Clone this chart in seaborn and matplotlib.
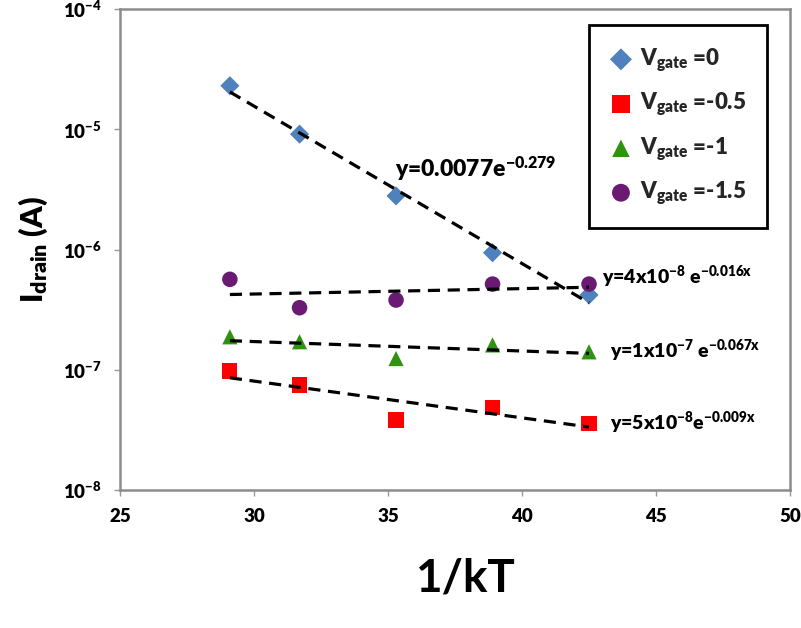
import numpy as np
import seaborn as sns
import matplotlib.pyplot as plt

# 1/kT values (same temperatures for every gate voltage)
inv_kt = [29.1, 31.7, 35.3, 38.9, 42.5]

# drain current (A)
i_vg0 = [2.30e-5, 9.1e-6, 2.79e-6, 9.4e-7, 4.19e-7]
i_vg05 = [9.77e-8, 7.47e-8, 3.82e-8, 4.88e-8, 3.59e-8]
i_vg1 = [1.88e-7, 1.71e-7, 1.24e-7, 1.61e-7, 1.41e-7]
i_vg15 = [5.65e-7, 3.28e-7, 3.80e-7, 5.16e-7, 5.16e-7]

labels = ['V$_{gate}$ =0', 'V$_{gate}$ =-0.5', 'V$_{gate}$ =-1', 'V$_{gate}$ =-1.5']
fit_labels = ['y=0.0077e$^{-0.279}$', 'y=5x10$^{-8}$e$^{-0.009x}$',
              'y=1x10$^{-7}$ e$^{-0.067x}$', 'y=4x10$^{-8}$ e$^{-0.016x}$']

y_ticks = [1e-8, 1e-7, 1e-6, 1e-5, 1e-4]
y_tick_labels = ['10$^{-8}$', '10$^{-7}$', '10$^{-6}$', '10$^{-5}$', '10$^{-4}$']
x_ticks = [25, 30, 35, 40, 45, 50]

sns.set_style('white')
plt.rcParams['font.family'] = ['Lato', 'DejaVu Sans']
plt.rcParams['font.weight'] = 'heavy'
plt.rcParams['mathtext.fontset'] = 'custom'
plt.rcParams['mathtext.rm'] = 'Lato:heavy'
plt.rcParams['mathtext.it'] = 'Lato:heavy'
plt.rcParams['mathtext.bf'] = 'Lato:heavy'

fig = plt.figure(figsize=(8.01, 6.28), dpi=100)
ax = fig.add_axes([0.1498, 0.2197, 0.8365, 0.766])

series = [i_vg0, i_vg05, i_vg1, i_vg15]
markers = ['D', 's', '^', 'o']
colors = ['#4f81bd', '#ff0000', '#2e9410', '#6a1a72']
sizes = [95, 120, 120, 125]
# where each fit equation sits (data coords)
text_pos = [(35.25, 10 ** -5.33), (43.3, 10 ** -7.44), (43.3, 10 ** -6.84), (43.0, 10 ** -6.23)]
text_size = [16.5, 14, 14, 14]

x = np.array(inv_kt)
for vals, m, c, s, lab in zip(series, markers, colors, sizes, labels):
    sns.scatterplot(x=inv_kt, y=vals, marker=m, color=c, s=s, edgecolor='none',
                    label=lab, ax=ax, zorder=3)

# exponential trend lines (straight in log space)
for vals, ftxt, pos, fs in zip(series, fit_labels, text_pos, text_size):
    coef = np.polyfit(x, np.log10(vals), 1)
    xf = np.array([x.min(), x.max()])
    ax.plot(xf, 10 ** np.polyval(coef, xf), color='black', lw=2.3,
            linestyle=(0, (3.8, 2.4)), zorder=4)
    ax.text(pos[0], pos[1], ftxt, fontsize=fs, fontweight='heavy', va='center',
            ha='left', color='black')

ax.set_yscale('log')
ax.set_ylim(1e-8, 1e-4)
ax.set_xlim(25, 50)
ax.set_yticks(y_ticks, labels=y_tick_labels)
ax.set_xticks(x_ticks)
ax.minorticks_off()
ax.tick_params(axis='both', labelsize=13.5, length=4, width=1, color='#999999',
               labelcolor='black', direction='out', left=True, bottom=True, pad=9)
plt.setp(ax.get_xticklabels() + ax.get_yticklabels(), fontweight='heavy')

for sp in ax.spines.values():
    sp.set_color('#8c8c8c')
    sp.set_linewidth(1.8)

ax.set_xlabel('1/kT', fontsize=33, fontweight='bold', color='black')
ax.xaxis.set_label_coords(0.515, -0.14)
ax.set_ylabel('I$_{drain}$ (A)', fontsize=22, fontweight='heavy', color='black')
ax.yaxis.set_label_coords(-0.105, 0.5)

leg = ax.legend(loc='upper right', bbox_to_anchor=(0.966, 0.967), borderaxespad=0,
                fontsize=16, frameon=True, fancybox=False, handletextpad=0.35,
                labelspacing=0.75, borderpad=0.95, handlelength=1.0, markerscale=1.15)
leg.get_frame().set_edgecolor('black')
leg.get_frame().set_linewidth(2)
leg.get_frame().set_alpha(1)

plt.savefig('out.png', dpi=100)
